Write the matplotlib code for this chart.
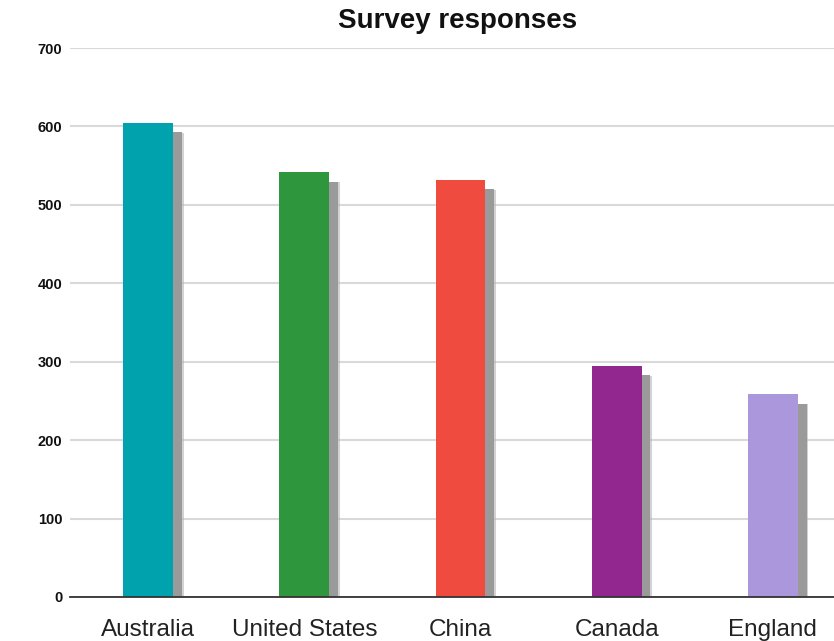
import matplotlib
matplotlib.use("Agg")
import matplotlib.pyplot as plt
import matplotlib.patheffects as pe

# data
countries = ["Australia", "United States", "China", "Canada", "England"]
responses = [605, 542, 532, 295, 259]
bar_colors = ["#00a3ad", "#2e963d", "#ef4b3f", "#92278f", "#ab97db"]
y_ticks = [0, 100, 200, 300, 400, 500, 600, 700]

plt.rcParams["font.family"] = ["Liberation Sans", "DejaVu Sans"]

fig = plt.figure(figsize=(8.34, 6.41), dpi=100)
# plot area runs past the right edge of the picture, as in the reference
ax = fig.add_axes([70 / 834, 1 - 597 / 641, 781 / 834, 549 / 641])

# soft grey drop shadow: a faint wider layer under a solid one
shadow = [pe.SimplePatchShadow(offset=(7.5, -7.5), shadow_rgbFace="#b5b5b5", alpha=0.6),
          pe.SimplePatchShadow(offset=(6.3, -7), shadow_rgbFace="#9a9a9a", alpha=1.0),
          pe.Normal()]
xs = range(len(countries))
bars = ax.bar(xs, responses, width=0.32, color=bar_colors, zorder=3)
for b in bars:
    b.set_path_effects(shadow)

ax.set_xlim(-0.5, len(countries) - 0.5)
ax.set_ylim(0, 700)
ax.set_yticks(y_ticks)
ax.set_yticklabels([str(t) for t in y_ticks], fontsize=10.5, fontweight="bold", color="#111111")
ax.set_xticks(list(xs))
ax.set_xticklabels(countries, fontsize=17.5, color="#222222")
ax.tick_params(axis="both", length=0)
ax.tick_params(axis="y", pad=5.5)
ax.tick_params(axis="x", pad=16)

ax.grid(axis="y", color="#d9d9d9", linewidth=1.5, zorder=0)
ax.set_axisbelow(True)
for s in ["top", "right", "left"]:
    ax.spines[s].set_visible(False)
ax.spines["bottom"].set_color("#333333")
ax.spines["bottom"].set_linewidth(1.3)
ax.spines["bottom"].set_zorder(5)

fig.text(458 / 834, 1 - 21 / 641, "Survey responses", fontsize=20, fontweight="bold",
         ha="center", va="center", color="#111111")

fig.savefig("out.png", dpi=100)
